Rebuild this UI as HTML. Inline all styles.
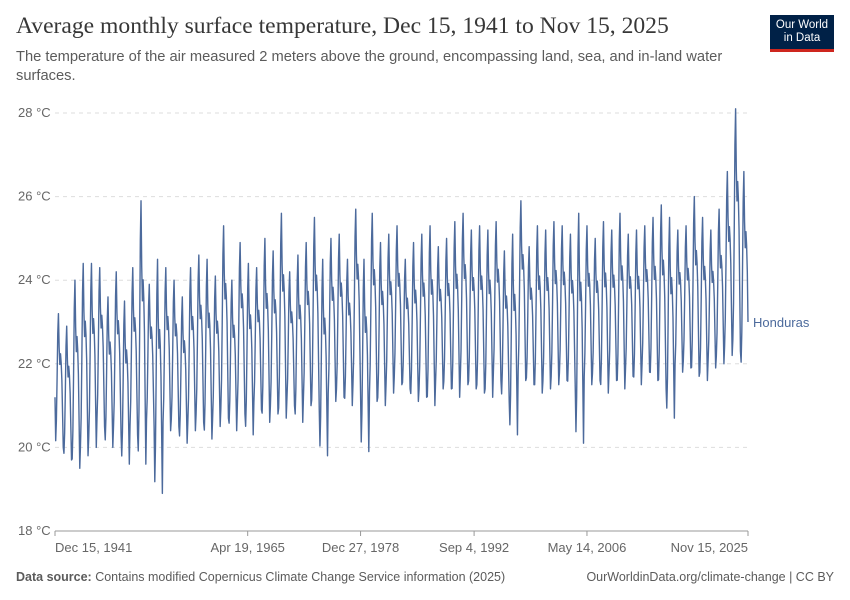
<!DOCTYPE html>
<html><head><meta charset="utf-8">
<style>
body{margin:0;background:#fff;font-family:"Liberation Sans",sans-serif;}
#c{position:relative;width:850px;height:600px;overflow:hidden;}
.t{position:absolute;white-space:nowrap;}
</style></head>
<body>
<div id="c">
<div class="t" style="left:16px;top:13px;font-family:'Liberation Serif',serif;font-size:23.6px;color:#373737;">Average monthly surface temperature, Dec 15, 1941 to Nov 15, 2025</div>
<div class="t" style="left:16px;top:48px;font-size:14.7px;color:#5b5b5b;white-space:normal;width:740px;line-height:19px;">The temperature of the air measured 2 meters above the ground, encompassing land, sea, and in-land water surfaces.</div>
<div style="position:absolute;left:770px;top:15px;width:64px;height:37px;background:#002147;border-bottom:3px solid #ce261e;color:#fff;font-size:11.5px;text-align:center;line-height:13px;padding-top:4px;box-sizing:border-box;">Our World<br>in Data</div>
<svg id="s" width="850" height="600" style="position:absolute;left:0;top:0"></svg>
<div class="t" style="left:16px;top:570px;font-size:12.5px;color:#5b5b5b;"><b>Data source:</b> Contains modified Copernicus Climate Change Service information (2025)</div>
<div class="t" style="right:16px;top:570px;font-size:12.5px;color:#5b5b5b;">OurWorldinData.org/climate-change | CC BY</div>
</div>
<script>
const yTicks=[18,20,22,24,26,28];
const xTickLabels=["Dec 15, 1941","Apr 19, 1965","Dec 27, 1978","Sep 4, 1992","May 14, 2006","Nov 15, 2025"];
const xTickIndex=[0,280,444,609,773,1007];
const startYear=1942;
const yearMax=[23.2,22.9,24.0,24.4,24.4,24.3,23.6,24.2,23.5,24.3,
25.9,23.9,24.5,24.3,24.0,23.6,24.3,24.6,24.5,24.1,
25.3,24.0,24.9,24.4,24.3,25.0,24.7,25.6,24.2,24.6,
24.9,25.5,24.5,25.0,25.1,24.5,25.7,24.5,25.6,24.9,
25.1,25.3,24.5,24.9,25.1,25.3,24.8,25.0,25.4,25.6,
25.2,25.3,25.2,25.4,24.7,25.1,25.9,24.8,25.3,25.2,
25.4,25.3,25.1,25.6,25.3,25.0,25.4,25.2,25.6,25.1,
25.2,25.3,25.5,25.8,25.5,25.2,25.3,26.0,25.5,25.2,
25.7,26.6,28.1,26.6];
const yearMin=[20.0,19.7,19.5,19.8,20.0,20.5,20.0,20.3,19.6,20.3,
19.6,20.5,18.9,20.4,20.5,20.1,20.4,20.6,20.2,20.5,
20.7,20.4,20.8,20.3,20.9,20.6,20.8,20.7,21.0,20.6,
21.0,20.9,19.8,21.1,21.2,21.0,21.3,19.9,21.1,21.0,
21.3,21.5,21.4,21.1,21.2,21.0,21.4,21.4,21.2,21.5,
21.4,21.3,21.2,21.6,21.1,20.3,21.6,21.5,21.3,21.4,
21.5,21.6,21.4,20.1,21.5,21.6,21.3,21.6,21.4,21.7,
21.5,21.8,21.6,21.4,20.7,21.8,21.9,21.7,21.6,21.9,
22.0,22.2,22.3,21.8];
const monthShape=[0.05,0.2,0.5,0.85,1.0,0.75,0.62,0.7,0.63,0.5,0.25,0.0];
const firstValue=21.2;
const series=[firstValue];
for(let y=0;y<yearMax.length;y++){for(let m=0;m<12;m++){if(y===yearMax.length-1&&m>10)break;
series.push(yearMin[y]+monthShape[m]*(yearMax[y]-yearMin[y]));}}
const X0=55,X1=748,Y0=531,Y1=113;
const xs=i=>X0+i*(X1-X0)/1007;
const ys=v=>Y0-(v-18)*(Y0-Y1)/10;
const svg=document.getElementById('s');const NS='http://www.w3.org/2000/svg';
function mk(t,a){const e=document.createElementNS(NS,t);for(const k in a)e.setAttribute(k,a[k]);svg.appendChild(e);return e;}
yTicks.forEach(v=>{
 if(v>18){const g=mk('line',{x1:X0,x2:X1,y1:ys(v),y2:ys(v),stroke:'#ddd','stroke-dasharray':'4,4'});
 
 }
 const t=mk('text',{x:18,y:ys(v)+4,'font-size':13,fill:'#666','font-family':'Liberation Sans,sans-serif'});
 t.textContent=v+' °C';
 
 
});
const ax=mk('line',{x1:X0,x2:X1,y1:Y0,y2:Y0,stroke:'#999'});


xTickLabels.forEach((l,k)=>{
 const x=xs(xTickIndex[k]);
 const tk=mk('line',{x1:x,x2:x,y1:Y0,y2:Y0+5,stroke:'#999'});
 
 
 const anchor=k===0?'start':(k===xTickLabels.length-1?'end':'middle');
 const t=mk('text',{x:x,y:Y0+21,'font-size':13,fill:'#666','text-anchor':anchor,'font-family':'Liberation Sans,sans-serif'});
 t.textContent=l;
 
 
});
const d=series.map((v,i)=>(i?'L':'M')+xs(i).toFixed(2)+','+ys(v).toFixed(2)).join('');
const p=mk('path',{d:d,fill:'none',stroke:'#4c6a9c','stroke-width':1.4,'stroke-linejoin':'round'});


const lt=mk('text',{x:753,y:ys(series[series.length-1])+5,'font-size':13,fill:'#4c6a9c','font-family':'Liberation Sans,sans-serif'});
lt.textContent='Honduras';


</script>
</body></html>
